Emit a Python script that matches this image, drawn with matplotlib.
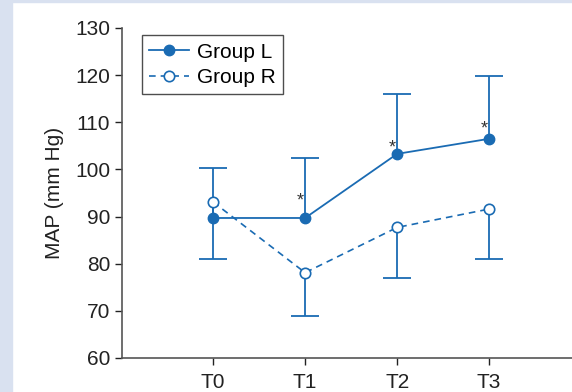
import matplotlib.pyplot as plt
from matplotlib.patches import Rectangle

plt.rcParams['font.family'] = ['Liberation Sans', 'DejaVu Sans']

# data
timepoints = ['T0', 'T1', 'T2', 'T3']
group_l = [89.7, 89.7, 103.3, 106.5]
group_l_upper = [100.2, 102.4, 116.0, 119.9]
group_r = [93.1, 78.1, 87.7, 91.6]
group_r_lower = [81.1, 68.9, 77.0, 81.1]
star_y = [None, 93.3, 104.6, 108.6]

blue = '#1a6bb3'
x = list(range(len(timepoints)))

fig = plt.figure(figsize=(5.72, 3.92), dpi=100)
# light blue frame strip on the left / top
fig.patches.append(Rectangle((0, 0), 12 / 572, 1, transform=fig.transFigure,
                             color='#d9e1f0', zorder=-1))
fig.patches.append(Rectangle((0, 1 - 2 / 392), 1, 2 / 392, transform=fig.transFigure,
                             color='#d9e1f0', zorder=-1))

ax = fig.add_axes([122 / 572, 34 / 392, 450 / 572, 330 / 392])

# one-sided error bars: stems + caps only on the far end
ax.vlines(x, group_l, group_l_upper, color=blue, lw=1.3, zorder=2)
ax.vlines(x, group_r_lower, group_r, color=blue, lw=1.3, zorder=2)
ax.plot(x, group_l_upper, ls='none', marker='_', ms=20, mew=1.3, color=blue, zorder=2)
ax.plot(x, group_r_lower, ls='none', marker='_', ms=20, mew=1.3, color=blue, zorder=2)

ax.plot(x, group_l, '-', color=blue, lw=1.3, marker='o', ms=7.5,
        mfc=blue, mec=blue, label='Group L', zorder=3)
ax.plot(x, group_r, '--', color=blue, lw=1.2, marker='o', ms=7.5,
        mfc='white', mec=blue, mew=1.2, label='Group R', zorder=3, dashes=(4, 3))

for xi, sy in zip(x, star_y):
    if sy is not None:
        ax.text(xi - 0.05, sy, '*', ha='center', va='center', fontsize=13, color='#333333')

ax.set_xlim(-0.99, 3.9)
ax.set_ylim(60, 130)
ax.set_xticks(x)
ax.set_xticklabels(timepoints)
ax.set_yticks(range(60, 131, 10))
ax.set_ylabel('MAP (mm Hg)', fontsize=15, color='#222222', labelpad=8)
ax.tick_params(labelsize=15, colors='#222222', length=5, width=1, direction='out')
ax.tick_params(axis='x', pad=6)

for side in ['top', 'right']:
    ax.spines[side].set_visible(False)
for side in ['left', 'bottom']:
    ax.spines[side].set_color('#555555')
    ax.spines[side].set_linewidth(1.2)

leg = ax.legend(loc='upper left', bbox_to_anchor=(0.035, 0.99), fontsize=15,
                frameon=True, fancybox=False, edgecolor='#222222', handlelength=1.9,
                handletextpad=0.4, borderpad=0.35, labelspacing=0.3, borderaxespad=0.2)
leg.get_frame().set_linewidth(1.0)

fig.savefig('out.png', dpi=100)
